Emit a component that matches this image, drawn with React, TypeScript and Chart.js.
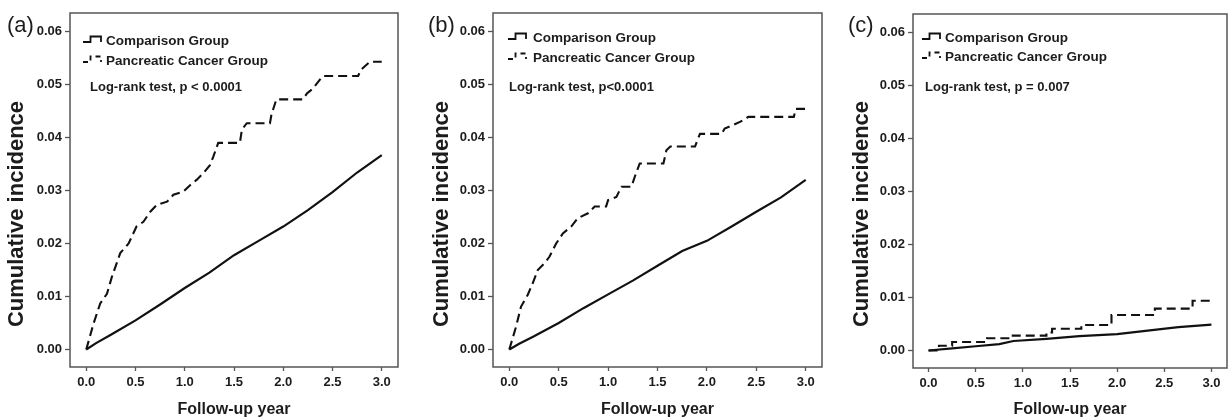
import React, { useEffect, useRef } from "react";
import { Chart, registerables } from "chart.js";
Chart.register(...registerables);

const FONT = "'Liberation Sans', Arial, Helvetica, sans-serif";
const TEXT = "#1c1c1c";
const FRAME = "#555555";
const LINE = "#111111";

// axis ticks
const X_TICKS = [0, 0.5, 1.0, 1.5, 2.0, 2.5, 3.0];
const Y_TICKS = [0, 0.01, 0.02, 0.03, 0.04, 0.05, 0.06];
const X_MIN = -0.165;
const X_MAX = 3.165;
const Y_MIN = -0.0033;
const Y_MAX = 0.0635;

const SERIES_NAMES = ["Comparison Group", "Pancreatic Cancer Group"];
const X_TITLE = "Follow-up year";
const Y_TITLE = "Cumulative incidence";

// (a)
const A_CMP_T = [0, 0.1, 0.25, 0.5, 0.75, 1.0, 1.25, 1.5, 1.75, 2.0, 2.25, 2.5, 2.75, 3.0];
const A_CMP_V = [0, 0.0012, 0.0028, 0.0055, 0.0085, 0.0116, 0.0145, 0.0178, 0.0205, 0.0232, 0.0263, 0.0297, 0.0334, 0.0367];
const A_PC_T = [0, 0.074, 0.142, 0.21, 0.26, 0.345, 0.43, 0.51, 0.58, 0.65, 0.716, 0.82, 0.885, 0.986, 1.054, 1.12, 1.19, 1.256, 1.29, 1.34, 1.56, 1.58, 1.63, 1.865, 1.88, 1.93, 2.2, 2.24, 2.3, 2.4, 2.76, 2.79, 2.88, 3.0];
const A_PC_V = [0, 0.0049, 0.0087, 0.0105, 0.0137, 0.0182, 0.02, 0.0232, 0.0241, 0.026, 0.0273, 0.0279, 0.0292, 0.0298, 0.031, 0.032, 0.0333, 0.0348, 0.0364, 0.039, 0.039, 0.0415, 0.0427, 0.0427, 0.0443, 0.0472, 0.0472, 0.0483, 0.0492, 0.0516, 0.0516, 0.0528, 0.0543, 0.0543];

// (b)
const B_CMP_T = [0, 0.1, 0.25, 0.5, 0.75, 1.0, 1.25, 1.5, 1.75, 2.0, 2.25, 2.5, 2.75, 3.0];
const B_CMP_V = [0, 0.0011, 0.0025, 0.005, 0.0078, 0.0104, 0.013, 0.0158, 0.0186, 0.0205, 0.0232, 0.026, 0.0287, 0.032];
const B_PC_T = [0, 0.068, 0.119, 0.186, 0.237, 0.288, 0.356, 0.406, 0.474, 0.542, 0.627, 0.694, 0.796, 0.864, 0.98, 1.0, 1.084, 1.135, 1.236, 1.27, 1.32, 1.56, 1.59, 1.63, 1.88, 1.91, 1.93, 2.15, 2.18, 2.27, 2.34, 2.42, 2.88, 2.9, 3.0];
const B_PC_V = [0, 0.0043, 0.0081, 0.0103, 0.0125, 0.015, 0.0163, 0.0175, 0.02, 0.0219, 0.0232, 0.0248, 0.0257, 0.027, 0.027, 0.0282, 0.0288, 0.0307, 0.0307, 0.0326, 0.0351, 0.0351, 0.0376, 0.0383, 0.0383, 0.0398, 0.0407, 0.0407, 0.0417, 0.0424, 0.043, 0.0439, 0.0439, 0.0454, 0.0454];

// (c)
const C_CMP_T = [0, 0.25, 0.5, 0.75, 0.9, 1.25, 1.6, 2.0, 2.3, 2.65, 3.0];
const C_CMP_V = [0, 0.0004, 0.0008, 0.0012, 0.0018, 0.0022, 0.0027, 0.0031, 0.0037, 0.0044, 0.0049];
const C_PC_T = [0, 0.11, 0.25, 0.62, 0.88, 1.25, 1.31, 1.62, 1.94, 2.4, 2.8, 3.0];
const C_PC_V = [0, 0.0009, 0.0016, 0.0023, 0.0028, 0.0034, 0.0041, 0.0048, 0.0067, 0.0079, 0.0094, 0.0094];

type PanelCfg = {
  tag: string;
  logrank: string;
  cmpT: number[];
  cmpV: number[];
  pcT: number[];
  pcV: number[];
  pcStepped: boolean;
  left: number;
  width: number;
  axisW: number;
  padRight: number;
  top: number;
  xAxisH: number;
  yTitleX: number;
  tagX: number;
  leg: { iconX: number; textX: number; row1: number; row2: number; lrX: number; lrY: number };
};

const PANELS: PanelCfg[] = [
  {
    tag: "(a)", logrank: "Log-rank test, p < 0.0001",
    cmpT: A_CMP_T, cmpV: A_CMP_V, pcT: A_PC_T, pcV: A_PC_V, pcStepped: false,
    left: 0, width: 410, axisW: 70, padRight: 12, top: 13, xAxisH: 51, yTitleX: 17, tagX: 7,
    leg: { iconX: 13, textX: 36, row1: 28, row2: 48, lrX: 20, lrY: 74 },
  },
  {
    tag: "(b)", logrank: "Log-rank test, p<0.0001",
    cmpT: B_CMP_T, cmpV: B_CMP_V, pcT: B_PC_T, pcV: B_PC_V, pcStepped: false,
    left: 410, width: 420, axisW: 83, padRight: 8, top: 13, xAxisH: 51, yTitleX: 32, tagX: 18,
    leg: { iconX: 15, textX: 40, row1: 25, row2: 45, lrX: 16, lrY: 74 },
  },
  {
    tag: "(c)", logrank: "Log-rank test, p = 0.007",
    cmpT: C_CMP_T, cmpV: C_CMP_V, pcT: C_PC_T, pcV: C_PC_V, pcStepped: true,
    left: 830, width: 399, axisW: 83, padRight: 2, top: 14, xAxisH: 50, yTitleX: 32, tagX: 18,
    leg: { iconX: 9, textX: 32, row1: 24, row2: 43, lrX: 12, lrY: 73 },
  },
];

const DASH = [9, 5];

const annotPlugin = {
  id: "annot",
  afterDraw(chart: any) {
    const o = chart.options.plugins.annot;
    if (!o) return;
    const ctx = chart.ctx;
    const a = chart.chartArea;
    ctx.save();
    // frame
    ctx.strokeStyle = FRAME;
    ctx.lineWidth = 1.5;
    ctx.setLineDash([]);
    ctx.strokeRect(a.left, a.top, a.right - a.left, a.bottom - a.top);
    // panel tag
    ctx.fillStyle = TEXT;
    ctx.font = `22px ${FONT}`;
    ctx.textBaseline = "alphabetic";
    ctx.textAlign = "left";
    ctx.fillText(o.tag, o.tagX, 32);
    // y title
    ctx.save();
    ctx.translate(o.yTitleX, 214);
    ctx.rotate(-Math.PI / 2);
    ctx.font = `bold 22px ${FONT}`;
    ctx.textAlign = "center";
    ctx.textBaseline = "middle";
    ctx.fillText(o.yTitle, 0, 0);
    ctx.restore();
    // legend
    const leg = o.leg;
    const drawIcon = (y: number, dashed: boolean) => {
      const x0 = a.left + leg.iconX;
      const yb = y + 1;
      const yt = y - 4.5;
      ctx.beginPath();
      ctx.moveTo(x0, yb);
      ctx.lineTo(x0 + 7.5, yb);
      ctx.lineTo(x0 + 7.5, yt);
      ctx.lineTo(x0 + 18, yt);
      ctx.lineTo(x0 + 18, yb);
      ctx.strokeStyle = LINE;
      ctx.lineWidth = 1.8;
      ctx.setLineDash(dashed ? [5, 4] : []);
      ctx.stroke();
      ctx.setLineDash([]);
    };
    const y1 = a.top + leg.row1;
    const y2 = a.top + leg.row2;
    drawIcon(y1, false);
    drawIcon(y2, true);
    ctx.fillStyle = TEXT;
    ctx.textAlign = "left";
    ctx.font = `bold 13.5px ${FONT}`;
    ctx.textBaseline = "middle";
    ctx.fillText(o.names[0], a.left + leg.textX, y1);
    ctx.fillText(o.names[1], a.left + leg.textX, y2);
    ctx.font = `bold 13px ${FONT}`;
    ctx.fillText(o.logrank, a.left + leg.lrX, a.top + leg.lrY);
    ctx.restore();
  },
};

function Panel({ p }: { p: PanelCfg }) {
  const ref = useRef<HTMLCanvasElement>(null);
  useEffect(() => {
    const canvas = ref.current!;
    const tickFont = { family: FONT, size: 13, weight: "bold" as const };
    const chart = new Chart(canvas, {
      type: "line",
      data: {
        datasets: [
          {
            label: SERIES_NAMES[0],
            data: p.cmpT.map((t, i) => ({ x: t, y: p.cmpV[i] })),
            borderColor: LINE,
            borderWidth: 2.2,
            pointRadius: 0,
            tension: 0,
            fill: false,
          },
          {
            label: SERIES_NAMES[1],
            data: p.pcT.map((t, i) => ({ x: t, y: p.pcV[i] })),
            borderColor: LINE,
            borderWidth: 2.1,
            borderDash: DASH,
            pointRadius: 0,
            tension: 0,
            fill: false,
            stepped: p.pcStepped ? "before" : false,
          },
        ],
      },
      options: {
        animation: false,
        responsive: false,
        events: [],
        layout: { padding: { top: p.top, right: p.padRight, left: 0, bottom: 0 } },
        plugins: {
          legend: { display: false },
          tooltip: { enabled: false },
          annot: {
            tag: p.tag,
            tagX: p.tagX,
            logrank: p.logrank,
            names: SERIES_NAMES,
            leg: p.leg,
            yTitle: Y_TITLE,
            yTitleX: p.yTitleX,
          },
        } as any,
        scales: {
          x: {
            type: "linear",
            min: X_MIN,
            max: X_MAX,
            afterBuildTicks: (s: any) => {
              s.ticks = X_TICKS.map((v) => ({ value: v }));
            },
            afterFit: (s: any) => {
              s.height = p.xAxisH;
            },
            ticks: {
              callback: (v: any) => Number(v).toFixed(1),
              font: tickFont,
              color: TEXT,
              padding: 4,
              maxRotation: 0,
              autoSkip: false,
            },
            grid: {
              display: true,
              drawOnChartArea: false,
              drawTicks: true,
              tickLength: 4,
              tickColor: FRAME,
              tickWidth: 1.3,
            },
            border: { display: false },
            title: {
              display: true,
              text: X_TITLE,
              color: TEXT,
              font: { family: FONT, size: 16, weight: "bold", lineHeight: 1 },
              padding: { top: 0, bottom: 0 },
            },
          },
          y: {
            type: "linear",
            min: Y_MIN,
            max: Y_MAX,
            afterBuildTicks: (s: any) => {
              s.ticks = Y_TICKS.map((v) => ({ value: v }));
            },
            afterFit: (s: any) => {
              s.width = p.axisW;
            },
            ticks: {
              callback: (v: any) => Number(v).toFixed(2),
              font: tickFont,
              color: TEXT,
              padding: 3,
              autoSkip: false,
            },
            grid: {
              display: true,
              drawOnChartArea: false,
              drawTicks: true,
              tickLength: 5,
              tickColor: FRAME,
              tickWidth: 1.3,
            },
            border: { display: false },
            title: { display: false },
          },
        },
      } as any,
      plugins: [annotPlugin],
    });
    return () => chart.destroy();
  }, [p]);
  return (
    <canvas
      ref={ref}
      width={p.width}
      height={418}
      style={{ position: "absolute", left: p.left, top: 0, width: p.width, height: 418 }}
    />
  );
}

export default function App() {
  return (
    <div style={{ position: "absolute", left: 0, top: 0, width: 1229, height: 418, background: "#ffffff", overflow: "hidden" }}>
      {PANELS.map((p) => (
        <Panel key={p.tag} p={p} />
      ))}
    </div>
  );
}
